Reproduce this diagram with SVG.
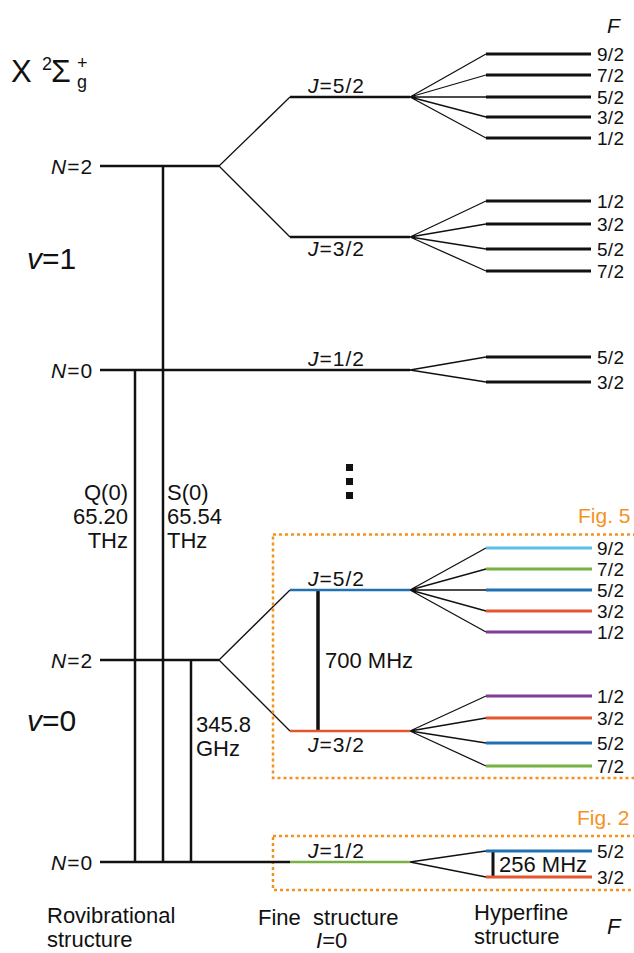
<svg xmlns="http://www.w3.org/2000/svg" width="634" height="953" viewBox="0 0 634 953">
<style>
text{font-family:"Liberation Sans",Arial,Helvetica,sans-serif;fill:#111}
.lvl{stroke:#111;stroke-width:2.5;fill:none}
.hf{stroke-width:3;fill:none}
.k{stroke:#111}
.thin{stroke:#111;stroke-width:1.3;fill:none}
.vt{stroke:#111;stroke-width:2.5;fill:none}
.lab{font-size:21px;letter-spacing:1px}
.f{font-size:19px;letter-spacing:0.3px}
.big{font-size:22px}
.it{font-style:italic}
.box{fill:none;stroke:#f5921e;stroke-width:2.5;stroke-dasharray:3 3}
.fig{font-size:21px;fill:#f5921e}
.lb{stroke:#5bbfea}.gr{stroke:#78b043}.bl{stroke:#2070b4}.or{stroke:#e4572e}.pu{stroke:#7d3c98}
</style>

<g id="title">
<text x="11" y="82" font-size="31">X</text>
<text x="42" y="70" font-size="18">2</text>
<text x="51" y="82" font-size="32">Σ</text>
<text x="77" y="88" font-size="18">g</text>
<text x="77" y="69" font-size="18">+</text>
<text x="607" y="33" font-size="21" class="it">F</text>
</g>

<g id="v1-label"><text x="27" y="269" font-size="30"><tspan class="it">v</tspan>=1</text></g>
<g id="v0-label"><text x="27" y="731" font-size="30"><tspan class="it">v</tspan>=0</text></g>

<g id="connectors">
<line class="vt" x1="163" y1="166" x2="163" y2="862"/>
<line class="vt" x1="135" y1="370" x2="135" y2="862"/>
<line class="vt" x1="191" y1="660" x2="191" y2="862"/>
<line x1="318" y1="590" x2="318" y2="731" stroke="#111" stroke-width="3.5"/>
<line x1="493" y1="851" x2="493" y2="877" stroke="#111" stroke-width="3"/>
<path class="thin" d="M219,166 L290,97 M219,166 L290,237 M219,660 L290,590 M219,660 L290,731"/>
<path class="thin" d="M410,97 L486,54 M410,97 L486,75 M410,97 L486,97 M410,97 L486,117 M410,97 L486,138"/>
<path class="thin" d="M410,237 L486,201 M410,237 L486,224 M410,237 L486,249 M410,237 L486,271"/>
<path class="thin" d="M410,370 L486,357 M410,370 L486,382"/>
<path class="thin" d="M410,590 L486,548 M410,590 L486,569 M410,590 L486,590 M410,590 L486,611 M410,590 L486,632"/>
<path class="thin" d="M410,731 L486,696 M410,731 L486,718 M410,731 L486,743 M410,731 L486,766"/>
<path class="thin" d="M410,862 L486,851 M410,862 L486,877"/>
</g>

<g id="v1-N2">
<line class="lvl" x1="100" y1="166" x2="219" y2="166"/>
<text x="51" y="173.5" class="lab"><tspan class="it">N</tspan>=2</text>
</g>
<g id="v1-N2-J52">
<line class="lvl" x1="290" y1="97" x2="410" y2="97"/>
<text x="308" y="93" class="lab"><tspan class="it">J</tspan>=5/2</text>
</g>
<g id="v1-N2-J32">
<line class="lvl" x1="290" y1="237" x2="410" y2="237"/>
<text x="308" y="256" class="lab"><tspan class="it">J</tspan>=3/2</text>
</g>
<g id="v1-N0">
<line class="lvl" x1="100" y1="370" x2="410" y2="370"/>
<text x="51" y="377.5" class="lab"><tspan class="it">N</tspan>=0</text>
<text x="308" y="366" class="lab"><tspan class="it">J</tspan>=1/2</text>
</g>

<g id="v1-hf">
<g class="hf k">
<line x1="486" y1="54" x2="591" y2="54"/>
<line x1="486" y1="75" x2="591" y2="75"/>
<line x1="486" y1="97" x2="591" y2="97"/>
<line x1="486" y1="117" x2="591" y2="117"/>
<line x1="486" y1="138" x2="591" y2="138"/>
<line x1="486" y1="201" x2="591" y2="201"/>
<line x1="486" y1="224" x2="591" y2="224"/>
<line x1="486" y1="249" x2="591" y2="249"/>
<line x1="486" y1="271" x2="591" y2="271"/>
<line x1="486" y1="357" x2="591" y2="357"/>
<line x1="486" y1="382" x2="591" y2="382"/>
</g>
<g class="f">
<text x="597" y="61">9/2</text>
<text x="597" y="82">7/2</text>
<text x="597" y="104">5/2</text>
<text x="597" y="124">3/2</text>
<text x="597" y="145">1/2</text>
<text x="597" y="208">1/2</text>
<text x="597" y="231">3/2</text>
<text x="597" y="256">5/2</text>
<text x="597" y="278">7/2</text>
<text x="597" y="364">5/2</text>
<text x="597" y="389">3/2</text>
</g>
</g>

<g id="dots">
<rect x="346" y="464" width="7" height="7" fill="#111"/>
<rect x="346" y="478" width="7" height="7" fill="#111"/>
<rect x="346" y="492" width="7" height="7" fill="#111"/>
</g>

<g id="Q0-label" class="big">
<text x="128" y="500" text-anchor="end">Q(0)</text>
<text x="128" y="524" text-anchor="end">65.20</text>
<text x="128" y="548" text-anchor="end">THz</text>
</g>
<g id="S0-label" class="big">
<text x="167" y="500">S(0)</text>
<text x="167" y="524">65.54</text>
<text x="167" y="548">THz</text>
</g>
<g id="rot-label" class="big">
<text x="196" y="732">345.8</text>
<text x="196" y="756">GHz</text>
</g>

<g id="fig5">
<rect class="box" x="273" y="534.5" width="380" height="243.5"/>
<text class="fig" x="578" y="523">Fig. 5</text>
</g>
<g id="fig2">
<rect class="box" x="273" y="836" width="380" height="54"/>
<text class="fig" x="577" y="825">Fig. 2</text>
</g>

<g id="v0-N2">
<line class="lvl" x1="100" y1="660" x2="219" y2="660"/>
<text x="51" y="667.5" class="lab"><tspan class="it">N</tspan>=2</text>
</g>
<g id="v0-N2-J52">
<line class="lvl bl" x1="290" y1="590" x2="410" y2="590"/>
<text x="308" y="586" class="lab"><tspan class="it">J</tspan>=5/2</text>
</g>
<g id="v0-N2-J32">
<line class="lvl or" x1="290" y1="731" x2="410" y2="731"/>
<text x="308" y="752" class="lab"><tspan class="it">J</tspan>=3/2</text>
</g>
<g id="fine-split"><text x="325" y="668" class="big">700 MHz</text></g>

<g id="v0-hf">
<g class="hf">
<line class="lb" x1="486" y1="548" x2="592" y2="548"/>
<line class="gr" x1="486" y1="569" x2="592" y2="569"/>
<line class="bl" x1="486" y1="590" x2="592" y2="590"/>
<line class="or" x1="486" y1="611" x2="592" y2="611"/>
<line class="pu" x1="486" y1="632" x2="592" y2="632"/>
<line class="pu" x1="486" y1="696" x2="592" y2="696"/>
<line class="or" x1="486" y1="718" x2="592" y2="718"/>
<line class="bl" x1="486" y1="743" x2="592" y2="743"/>
<line class="gr" x1="486" y1="766" x2="592" y2="766"/>
<line class="bl" x1="486" y1="851" x2="592" y2="851"/>
<line class="or" x1="486" y1="877" x2="592" y2="877"/>
</g>
<g class="f">
<text x="597" y="555">9/2</text>
<text x="597" y="576">7/2</text>
<text x="597" y="597">5/2</text>
<text x="597" y="618">3/2</text>
<text x="597" y="639">1/2</text>
<text x="597" y="703">1/2</text>
<text x="597" y="725">3/2</text>
<text x="597" y="750">5/2</text>
<text x="597" y="773">7/2</text>
<text x="597" y="858">5/2</text>
<text x="597" y="884">3/2</text>
</g>
</g>

<g id="v0-N0">
<line class="lvl" x1="100" y1="862" x2="290" y2="862"/>
<line class="lvl gr" x1="290" y1="862" x2="410" y2="862"/>
<text x="51" y="869.5" class="lab"><tspan class="it">N</tspan>=0</text>
<text x="308" y="858" class="lab"><tspan class="it">J</tspan>=1/2</text>
</g>
<g id="hf-split"><text x="499" y="872" class="big">256 MHz</text></g>

<g id="footer" class="big">
<text x="47" y="923">Rovibrational</text>
<text x="47" y="947">structure</text>
<text x="258" y="925" xml:space="preserve">Fine  structure</text>
<text x="316" y="948"><tspan class="it">I</tspan>=0</text>
<text x="474" y="920">Hyperfine</text>
<text x="474" y="944">structure</text>
<text x="492" y="969"><tspan class="it">I</tspan>=2</text>
<text x="607" y="934" class="it">F</text>
</g>
</svg>
